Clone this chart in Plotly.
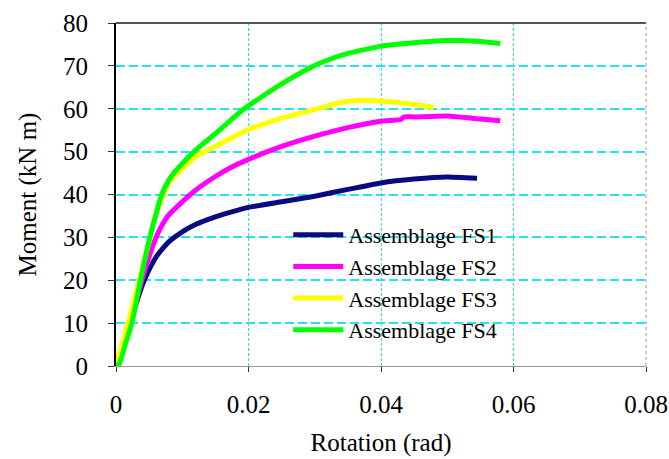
import plotly.graph_objects as go

# Data
fs1_x = [0, 0.001, 0.002, 0.003, 0.004, 0.005, 0.006, 0.007, 0.008, 0.010, 0.012, 0.015, 0.018, 0.020, 0.025, 0.030, 0.035, 0.040, 0.045, 0.050, 0.0545]
fs1_y = [0, 4.8, 9.6, 14.4, 19.0, 22.5, 25.3, 27.3, 29.0, 31.3, 33.0, 34.8, 36.2, 37.0, 38.3, 39.6, 41.2, 42.7, 43.6, 44.1, 43.8]

fs2_x = [0, 0.001, 0.002, 0.003, 0.004, 0.005, 0.006, 0.007, 0.008, 0.010, 0.012, 0.015, 0.0172, 0.020, 0.025, 0.030, 0.035, 0.040, 0.043, 0.0435, 0.045, 0.050, 0.055, 0.058]
fs2_y = [0, 5.0, 10.0, 15.0, 20.5, 25.5, 29.8, 33.0, 35.3, 38.3, 41.0, 44.2, 46.2, 48.2, 51.2, 53.6, 55.6, 57.1, 57.5, 58.1, 58.1, 58.3, 57.6, 57.2]

fs3_x = [0, 0.001, 0.002, 0.003, 0.004, 0.005, 0.0056, 0.0065, 0.008, 0.010, 0.0122, 0.0142, 0.020, 0.025, 0.031, 0.034, 0.037, 0.040, 0.045, 0.048]
fs3_y = [0, 5.5, 11.0, 17.0, 23.0, 29.0, 33.0, 37.5, 42.8, 46.0, 49.0, 50.6, 55.2, 57.8, 60.2, 61.5, 62.0, 61.8, 61.0, 60.3]

fs4_x = [0, 0.0005, 0.0015, 0.0024, 0.0037, 0.0051, 0.0069, 0.008, 0.009, 0.010, 0.0122, 0.015, 0.019, 0.022, 0.025, 0.0296, 0.031, 0.035, 0.040, 0.045, 0.050, 0.055, 0.058]
fs4_y = [0, 0.5, 5.5, 10.0, 20.0, 30.0, 40.0, 43.4, 45.5, 47.2, 50.6, 54.2, 59.6, 62.8, 65.8, 69.8, 70.8, 72.9, 74.6, 75.4, 75.9, 75.7, 75.2]

series_names = ["Assemblage FS1", "Assemblage FS2", "Assemblage FS3", "Assemblage FS4"]
series_colors = ["#0a0a80", "#ff00ff", "#ffff00", "#00ff00"]

x_ticks = [0, 0.02, 0.04, 0.06, 0.08]
x_tick_labels = ["0", "0.02", "0.04", "0.06", "0.08"]
y_ticks = [0, 10, 20, 30, 40, 50, 60, 70, 80]

FONT = "Times New Roman, Liberation Serif, serif"

fig = go.Figure()
for xs, ys, name, col in zip([fs1_x, fs2_x, fs3_x, fs4_x], [fs1_y, fs2_y, fs3_y, fs4_y], series_names, series_colors):
    fig.add_trace(go.Scatter(x=xs, y=ys, mode="lines", name=name,
                             line=dict(color=col, width=5, shape="spline", smoothing=0.4)))

fig.update_layout(
    width=669, height=459,
    margin=dict(l=116, r=23, t=23, b=93),
    paper_bgcolor="white", plot_bgcolor="white",
    font=dict(family=FONT, size=22, color="black"),
    showlegend=True,
    legend=dict(x=0.325, y=0.443, xanchor="left", yanchor="top",
                bgcolor="rgba(0,0,0,0)", font=dict(family=FONT, size=22, color="black"),
                tracegroupgap=0, itemwidth=50),
)

fig.update_xaxes(
    range=[0, 0.08], tickvals=x_ticks, ticktext=x_tick_labels,
    showgrid=True, gridcolor="#22e4f0", gridwidth=1, griddash="3px,2px",
    showline=True, linecolor="#999999", linewidth=1,
    ticks="outside", ticklen=5, tickcolor="#333", tickwidth=1,
    tickfont=dict(family=FONT, size=25, color="black"),
    ticklabelstandoff=11, automargin=False,
    zeroline=False,
    title=dict(text="Rotation (rad)", font=dict(family=FONT, size=25, color="black"), standoff=16),
)
fig.update_yaxes(
    range=[0, 80], tickvals=y_ticks,
    showgrid=True, gridcolor="#22e4f0", gridwidth=2, griddash="9px,4px",
    showline=True, linecolor="black", linewidth=2,
    ticks="outside", ticklen=6, tickcolor="#333", tickwidth=1,
    tickfont=dict(family=FONT, size=25, color="black"),
    ticklabelstandoff=15, automargin=False,
    zeroline=False,
    title=dict(text="Moment (kN m)", font=dict(family=FONT, size=25, color="black"), standoff=19),
)

# plot frame: top dark border, right dotted grey border
fig.add_shape(type="line", xref="paper", yref="paper", x0=0, x1=1, y0=1, y1=1,
              line=dict(color="#555555", width=2))
fig.add_shape(type="line", xref="paper", yref="paper", x0=1, x1=1, y0=0, y1=1,
              line=dict(color="#999999", width=1, dash="dot"))

fig.write_html("out.html")
